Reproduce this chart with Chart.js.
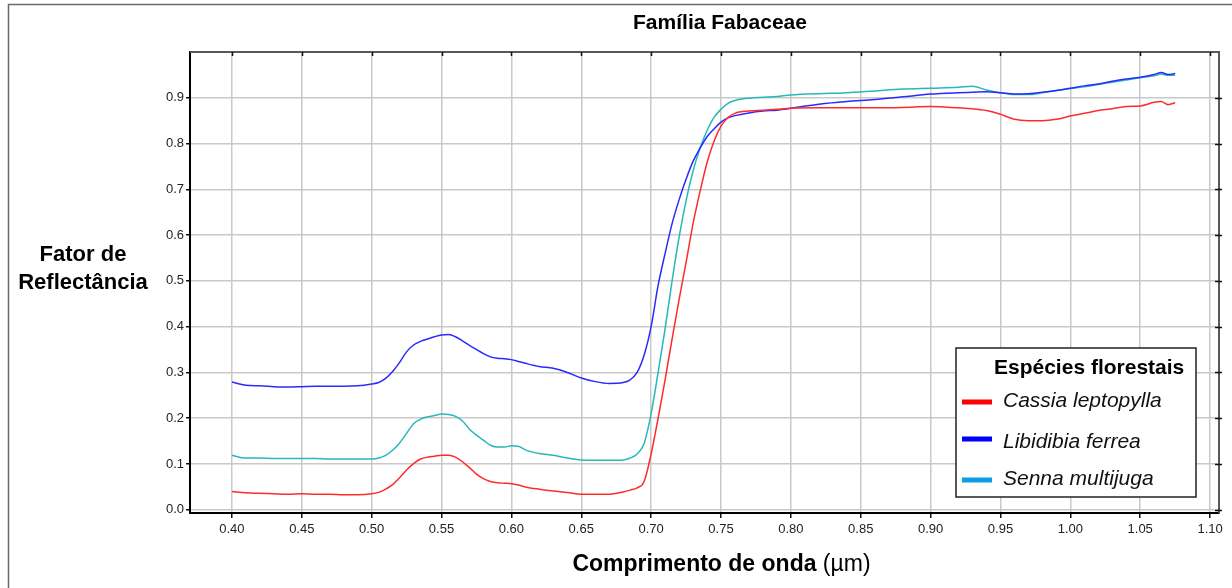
<!DOCTYPE html>
<html>
<head>
<meta charset="utf-8">
<title>Família Fabaceae</title>
<script src="https://cdn.jsdelivr.net/npm/chart.js@4.4.1/dist/chart.umd.min.js"></script>
<style>
  html, body { margin: 0; padding: 0; background: #fff; }
  #wrap { width: 1232px; height: 588px; }
</style>
</head>
<body>
<div id="wrap"><canvas id="spectra_chart" width="1232" height="588"></canvas></div>
<script>
/** DATA **/
// comprimento de onda (µm)
const wavelengths = [0.40, 0.41, 0.42, 0.43, 0.44, 0.45, 0.46, 0.47, 0.48, 0.49,
    0.50, 0.505, 0.51, 0.515, 0.52, 0.525, 0.53, 0.535, 0.54, 0.545,
    0.55, 0.555, 0.56, 0.565, 0.57, 0.575, 0.58, 0.585, 0.59, 0.595,
    0.60, 0.605, 0.61, 0.62, 0.63, 0.64, 0.65, 0.66, 0.67, 0.68,
    0.685, 0.69, 0.695, 0.70, 0.705, 0.71, 0.715, 0.72, 0.725, 0.73,
    0.735, 0.74, 0.745, 0.75, 0.755, 0.76, 0.77, 0.78, 0.79, 0.80,
    0.82, 0.84, 0.86, 0.88, 0.90, 0.92, 0.93, 0.94, 0.95, 0.96,
    0.97, 0.98, 0.99, 1.00, 1.01, 1.02, 1.03, 1.04, 1.05, 1.06,
    1.065, 1.07, 1.075]

const cassia = [0.040, 0.037, 0.036, 0.035, 0.034, 0.035, 0.034, 0.034, 0.033, 0.033,
    0.035, 0.038, 0.045, 0.055, 0.070, 0.087, 0.101, 0.111, 0.115, 0.117,
    0.119, 0.119, 0.115, 0.105, 0.092, 0.078, 0.068, 0.062, 0.059, 0.058,
    0.057, 0.054, 0.050, 0.045, 0.041, 0.038, 0.034, 0.034, 0.034, 0.039,
    0.043, 0.048, 0.062, 0.122, 0.200, 0.284, 0.373, 0.459, 0.540, 0.625,
    0.695, 0.758, 0.805, 0.838, 0.857, 0.866, 0.871, 0.873, 0.875, 0.877,
    0.878, 0.878, 0.878, 0.879, 0.881, 0.878, 0.876, 0.872, 0.864, 0.853,
    0.850, 0.850, 0.853, 0.860, 0.866, 0.872, 0.876, 0.881, 0.882, 0.890,
    0.892, 0.885, 0.889]

const libidibia = [0.279, 0.272, 0.271, 0.269, 0.268, 0.269, 0.270, 0.270, 0.270, 0.271,
    0.275, 0.278, 0.287, 0.302, 0.322, 0.345, 0.360, 0.368, 0.373, 0.378,
    0.382, 0.383, 0.378, 0.369, 0.359, 0.350, 0.341, 0.334, 0.331, 0.330,
    0.328, 0.324, 0.320, 0.313, 0.309, 0.300, 0.288, 0.280, 0.276, 0.278,
    0.284, 0.300, 0.338, 0.400, 0.490, 0.560, 0.625, 0.677, 0.722, 0.761,
    0.790, 0.815, 0.832, 0.847, 0.856, 0.861, 0.867, 0.871, 0.873, 0.877,
    0.886, 0.892, 0.896, 0.902, 0.908, 0.911, 0.912, 0.913, 0.911, 0.908,
    0.909, 0.912, 0.916, 0.921, 0.926, 0.930, 0.936, 0.941, 0.945, 0.951,
    0.955, 0.951, 0.953]

const senna = [0.119, 0.113, 0.113, 0.112, 0.112, 0.112, 0.112, 0.111, 0.111, 0.111,
    0.111, 0.113, 0.119, 0.130, 0.146, 0.167, 0.188, 0.198, 0.203, 0.206,
    0.209, 0.208, 0.204, 0.194, 0.176, 0.163, 0.152, 0.141, 0.137, 0.137,
    0.140, 0.139, 0.131, 0.123, 0.119, 0.113, 0.109, 0.108, 0.108, 0.109,
    0.113, 0.122, 0.145, 0.210, 0.300, 0.395, 0.500, 0.595, 0.675, 0.740,
    0.790, 0.828, 0.857, 0.875, 0.888, 0.894, 0.899, 0.901, 0.903, 0.906,
    0.909, 0.911, 0.915, 0.919, 0.921, 0.923, 0.925, 0.917, 0.911, 0.907,
    0.907, 0.911, 0.916, 0.920, 0.924, 0.929, 0.934, 0.939, 0.944, 0.948,
    0.952, 0.949, 0.949]

const species = ['Cassia leptopylla', 'Libidibia ferrea', 'Senna multijuga']
const x_ticks = [0.40, 0.45, 0.50, 0.55, 0.60, 0.65, 0.70, 0.75, 0.80, 0.85, 0.90, 0.95, 1.00, 1.05, 1.10]
const y_ticks = [0.0, 0.1, 0.2, 0.3, 0.4, 0.5, 0.6, 0.7, 0.8, 0.9]

const FONT = '"Liberation Sans", Arial, sans-serif'

function to_points(values) {
    return wavelengths.map(function (w, i) {
        return { x: w, y: values[i] }
    })
}

/** frame, titles and legend drawn on the canvas **/
const decor = {
    id: 'decor',
    beforeDraw: function (chart) {
        const ctx = chart.ctx
        ctx.save()
        ctx.fillStyle = '#ffffff'
        ctx.fillRect(0, 0, chart.width, chart.height)
        ctx.strokeStyle = '#6a6a6a'
        ctx.lineWidth = 1.5
        ctx.strokeRect(8.5, 4.5, 1240, 600)
        ctx.restore()
    },
    afterDraw: function (chart) {
        const ctx = chart.ctx
        const a = chart.chartArea
        const sx = chart.scales.x
        const sy = chart.scales.y
        ctx.save()

        // top and right border
        ctx.strokeStyle = '#585858'
        ctx.lineWidth = 2
        ctx.beginPath()
        ctx.moveTo(a.left, a.top)
        ctx.lineTo(a.right, a.top)
        ctx.lineTo(a.right, a.bottom)
        ctx.stroke()

        ctx.strokeStyle = '#111'
        ctx.lineWidth = 1.5
        ctx.beginPath()
        x_ticks.forEach(function (v) {
            const px = Math.round(sx.getPixelForValue(v)) + 0.5
            ctx.moveTo(px, a.top)
            ctx.lineTo(px, a.top + 4)
        })
        y_ticks.forEach(function (v) {
            const py = Math.round(sy.getPixelForValue(v)) + 0.5
            ctx.moveTo(a.right - 4, py)
            ctx.lineTo(a.right + 3, py)
        })
        ctx.stroke()

        // titles
        ctx.fillStyle = '#000'
        ctx.textBaseline = 'alphabetic'
        ctx.textAlign = 'center'
        ctx.font = 'bold 21px ' + FONT
        ctx.fillText('Família Fabaceae', 720, 29)

        ctx.font = 'bold 22px ' + FONT
        ctx.fillText('Fator de', 83, 261)
        ctx.fillText('Reflectância', 83, 289)

        ctx.textAlign = 'left'
        const part1 = 'Comprimento de onda '
        const part2 = '(µm)'
        ctx.font = 'bold 23px ' + FONT
        const w1 = ctx.measureText(part1).width
        ctx.font = '23px ' + FONT
        const w2 = ctx.measureText(part2).width
        const x0 = 721.5 - (w1 + w2) / 2
        ctx.font = 'bold 23px ' + FONT
        ctx.fillText(part1, x0, 571)
        ctx.font = '23px ' + FONT
        ctx.fillText(part2, x0 + w1, 571)

        // legend
        ctx.fillStyle = '#fff'
        ctx.fillRect(956, 348, 240, 149)
        ctx.strokeStyle = '#222'
        ctx.lineWidth = 1.5
        ctx.strokeRect(956, 348, 240, 149)

        ctx.fillStyle = '#000'
        ctx.font = 'bold 21px ' + FONT
        ctx.fillText('Espécies florestais', 994, 374)

        const legend_y = [402, 439, 480]
        const text_y = [407, 448, 485]
        ctx.font = 'italic 21px ' + FONT
        chart.data.datasets.forEach(function (ds, i) {
            ctx.strokeStyle = ds.legendColor
            ctx.lineWidth = 5
            ctx.beginPath()
            ctx.moveTo(962, legend_y[i])
            ctx.lineTo(992, legend_y[i])
            ctx.stroke()
            ctx.fillStyle = '#111'
            ctx.fillText(ds.label, 1003, text_y[i])
        })
        ctx.restore()
    }
}

const spectra_chart = new Chart(
    document.getElementById('spectra_chart').getContext('2d'),
    {
        type: 'line',
        data: {
            datasets: [{
                label: species[0],
                data: to_points(cassia),
                borderColor: '#ff2b2b',
                legendColor: '#ff0000',
            }, {
                label: species[1],
                data: to_points(libidibia),
                borderColor: '#2a2aff',
                legendColor: '#0000ff',
            }, {
                label: species[2],
                data: to_points(senna),
                borderColor: '#27b8b8',
                legendColor: '#0aa0e0',
            }]
        },
        options: {
            responsive: false,
            devicePixelRatio: 1,
            animation: false,
            layout: {
                padding: { left: 0, top: 52, right: 13, bottom: 0 }
            },
            elements: {
                point: { radius: 0 },
                line: { borderWidth: 1.5, cubicInterpolationMode: 'monotone' }
            },
            plugins: {
                legend: { display: false },
                title: { display: false },
                tooltip: { enabled: false }
            },
            scales: {
                x: {
                    type: 'linear',
                    min: 0.37,
                    max: 1.1064,
                    afterFit: function (scale) { scale.height = 75 },
                    afterBuildTicks: function (scale) {
                        scale.ticks = x_ticks.map(function (v) { return { value: v } })
                    },
                    ticks: {
                        padding: 4,
                        color: '#222',
                        font: { family: FONT, size: 13 },
                        maxRotation: 0,
                        autoSkip: false,
                        callback: function (v) { return Number(v).toFixed(2) }
                    },
                    grid: { color: '#c9c9c9', lineWidth: 1.5, tickColor: '#111', tickLength: 5 },
                    border: { color: '#000', width: 2 }
                },
                y: {
                    min: -0.007,
                    max: 1.0,
                    afterFit: function (scale) { scale.width = 190 },
                    afterBuildTicks: function (scale) {
                        scale.ticks = y_ticks.map(function (v) { return { value: v } })
                    },
                    ticks: {
                        padding: 2,
                        color: '#222',
                        font: { family: FONT, size: 13 },
                        autoSkip: false,
                        callback: function (v) { return Number(v).toFixed(1) }
                    },
                    grid: { color: '#c9c9c9', lineWidth: 1.5, tickColor: '#111', tickLength: 4 },
                    border: { color: '#000', width: 2 }
                }
            }
        },
        plugins: [decor]
    }
);
</script>
</body>
</html>
